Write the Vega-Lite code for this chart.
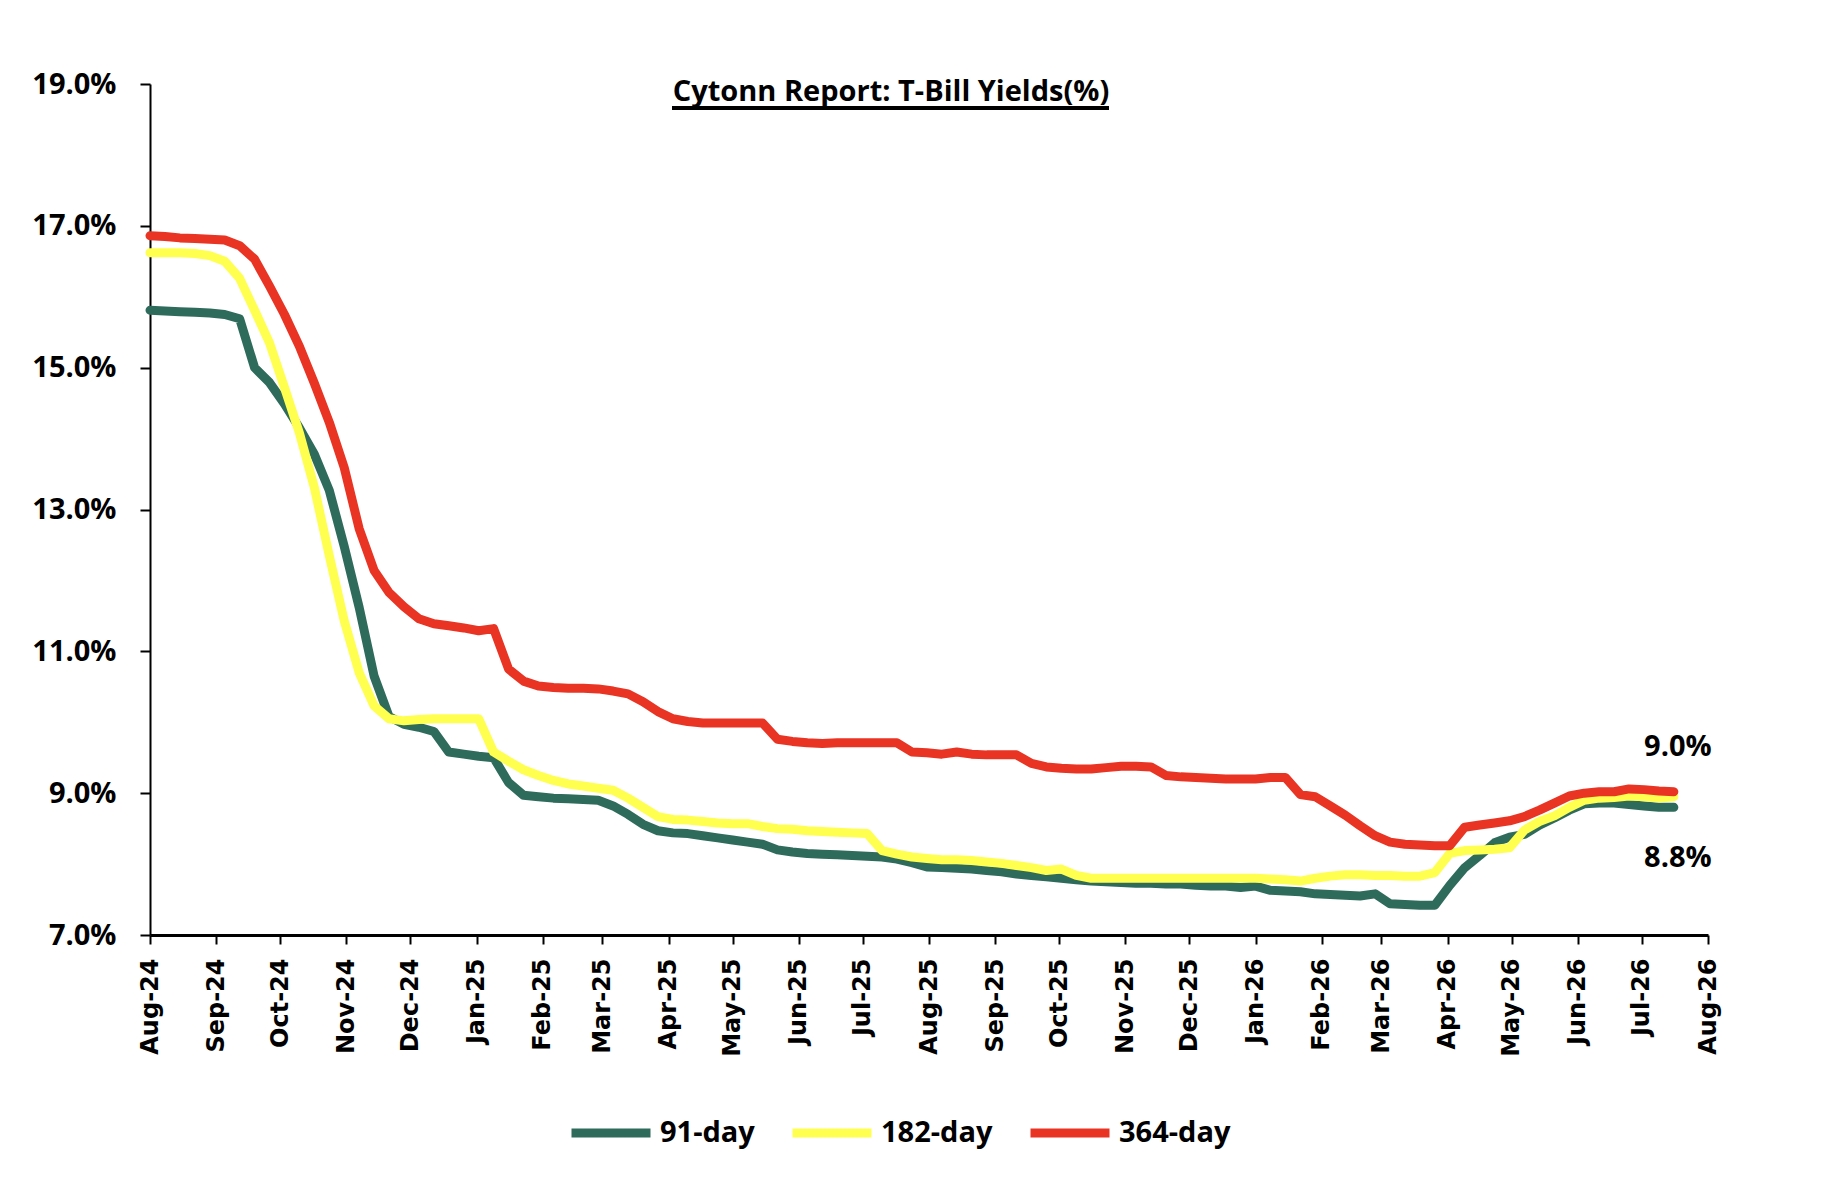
{
  "$schema": "https://vega.github.io/schema/vega-lite/v6.json",
  "width": 1558,
  "height": 851,
  "autosize": {"type": "none"},
  "padding": {"left": 150, "top": 84, "right": 118, "bottom": 251},
  "background": "white",
  "title": {
    "text": "Cytonn Report: T-Bill Yields(%)",
    "anchor": "middle",
    "frame": "group",
    "font": "Open Sans",
    "fontWeight": "bold",
    "fontSize": 29,
    "color": "black",
    "baseline": "alphabetic",
    "offset": -60,
    "dx": -38
  },
  "data": {
    "values": [
      {"date": "2024-08-01", "91-day": 15.81, "182-day": 16.62, "364-day": 16.86},
      {"date": "2024-08-08", "91-day": 15.80, "182-day": 16.62, "364-day": 16.85},
      {"date": "2024-08-15", "91-day": 15.79, "182-day": 16.62, "364-day": 16.83},
      {"date": "2024-08-22", "91-day": 15.78, "182-day": 16.61, "364-day": 16.82},
      {"date": "2024-08-29", "91-day": 15.77, "182-day": 16.58, "364-day": 16.81},
      {"date": "2024-09-05", "91-day": 15.75, "182-day": 16.50, "364-day": 16.80},
      {"date": "2024-09-12", "91-day": 15.69, "182-day": 16.26, "364-day": 16.72},
      {"date": "2024-09-19", "91-day": 15.00, "182-day": 15.81, "364-day": 16.53},
      {"date": "2024-09-26", "91-day": 14.79, "182-day": 15.35, "364-day": 16.15},
      {"date": "2024-10-03", "91-day": 14.49, "182-day": 14.72, "364-day": 15.75},
      {"date": "2024-10-10", "91-day": 14.15, "182-day": 14.08, "364-day": 15.30},
      {"date": "2024-10-17", "91-day": 13.78, "182-day": 13.31, "364-day": 14.78},
      {"date": "2024-10-24", "91-day": 13.27, "182-day": 12.35, "364-day": 14.23},
      {"date": "2024-10-31", "91-day": 12.48, "182-day": 11.43, "364-day": 13.59},
      {"date": "2024-11-07", "91-day": 11.62, "182-day": 10.70, "364-day": 12.73},
      {"date": "2024-11-14", "91-day": 10.65, "182-day": 10.23, "364-day": 12.14},
      {"date": "2024-11-21", "91-day": 10.08, "182-day": 10.05, "364-day": 11.83},
      {"date": "2024-11-28", "91-day": 9.97, "182-day": 10.02, "364-day": 11.63},
      {"date": "2024-12-05", "91-day": 9.93, "182-day": 10.04, "364-day": 11.46},
      {"date": "2024-12-12", "91-day": 9.87, "182-day": 10.05, "364-day": 11.39},
      {"date": "2024-12-19", "91-day": 9.58, "182-day": 10.05, "364-day": 11.36},
      {"date": "2024-12-26", "91-day": 9.55, "182-day": 10.05, "364-day": 11.33},
      {"date": "2025-01-02", "91-day": 9.52, "182-day": 10.05, "364-day": 11.29},
      {"date": "2025-01-09", "91-day": 9.50, "182-day": 9.58, "364-day": 11.32},
      {"date": "2025-01-16", "91-day": 9.15, "182-day": 9.45, "364-day": 10.75},
      {"date": "2025-01-23", "91-day": 8.97, "182-day": 9.33, "364-day": 10.58},
      {"date": "2025-01-30", "91-day": 8.95, "182-day": 9.25, "364-day": 10.51},
      {"date": "2025-02-06", "91-day": 8.93, "182-day": 9.18, "364-day": 10.49},
      {"date": "2025-02-13", "91-day": 8.92, "182-day": 9.13, "364-day": 10.48},
      {"date": "2025-02-20", "91-day": 8.91, "182-day": 9.10, "364-day": 10.48},
      {"date": "2025-02-27", "91-day": 8.90, "182-day": 9.07, "364-day": 10.47},
      {"date": "2025-03-06", "91-day": 8.82, "182-day": 9.04, "364-day": 10.44},
      {"date": "2025-03-13", "91-day": 8.70, "182-day": 8.93, "364-day": 10.40},
      {"date": "2025-03-20", "91-day": 8.56, "182-day": 8.80, "364-day": 10.29},
      {"date": "2025-03-27", "91-day": 8.47, "182-day": 8.67, "364-day": 10.15},
      {"date": "2025-04-03", "91-day": 8.44, "182-day": 8.63, "364-day": 10.05},
      {"date": "2025-04-10", "91-day": 8.43, "182-day": 8.62, "364-day": 10.01},
      {"date": "2025-04-17", "91-day": 8.40, "182-day": 8.60, "364-day": 9.99},
      {"date": "2025-04-24", "91-day": 8.37, "182-day": 8.58, "364-day": 9.99},
      {"date": "2025-05-01", "91-day": 8.34, "182-day": 8.57, "364-day": 9.99},
      {"date": "2025-05-08", "91-day": 8.31, "182-day": 8.57, "364-day": 9.99},
      {"date": "2025-05-15", "91-day": 8.28, "182-day": 8.53, "364-day": 9.99},
      {"date": "2025-05-22", "91-day": 8.20, "182-day": 8.50, "364-day": 9.76},
      {"date": "2025-05-29", "91-day": 8.17, "182-day": 8.49, "364-day": 9.73},
      {"date": "2025-06-05", "91-day": 8.15, "182-day": 8.47, "364-day": 9.71},
      {"date": "2025-06-12", "91-day": 8.14, "182-day": 8.46, "364-day": 9.70},
      {"date": "2025-06-19", "91-day": 8.13, "182-day": 8.45, "364-day": 9.71},
      {"date": "2025-06-26", "91-day": 8.12, "182-day": 8.44, "364-day": 9.71},
      {"date": "2025-07-03", "91-day": 8.11, "182-day": 8.43, "364-day": 9.71},
      {"date": "2025-07-10", "91-day": 8.10, "182-day": 8.19, "364-day": 9.71},
      {"date": "2025-07-17", "91-day": 8.07, "182-day": 8.14, "364-day": 9.71},
      {"date": "2025-07-24", "91-day": 8.02, "182-day": 8.10, "364-day": 9.58},
      {"date": "2025-07-31", "91-day": 7.96, "182-day": 8.08, "364-day": 9.57},
      {"date": "2025-08-07", "91-day": 7.95, "182-day": 8.06, "364-day": 9.55},
      {"date": "2025-08-14", "91-day": 7.94, "182-day": 8.06, "364-day": 9.58},
      {"date": "2025-08-21", "91-day": 7.93, "182-day": 8.05, "364-day": 9.55},
      {"date": "2025-08-28", "91-day": 7.91, "182-day": 8.03, "364-day": 9.54},
      {"date": "2025-09-04", "91-day": 7.89, "182-day": 8.01, "364-day": 9.54},
      {"date": "2025-09-11", "91-day": 7.86, "182-day": 7.98, "364-day": 9.54},
      {"date": "2025-09-18", "91-day": 7.84, "182-day": 7.95, "364-day": 9.42},
      {"date": "2025-09-25", "91-day": 7.82, "182-day": 7.91, "364-day": 9.37},
      {"date": "2025-10-02", "91-day": 7.80, "182-day": 7.93, "364-day": 9.35},
      {"date": "2025-10-09", "91-day": 7.78, "182-day": 7.84, "364-day": 9.34},
      {"date": "2025-10-16", "91-day": 7.76, "182-day": 7.80, "364-day": 9.34},
      {"date": "2025-10-23", "91-day": 7.75, "182-day": 7.80, "364-day": 9.36},
      {"date": "2025-10-30", "91-day": 7.74, "182-day": 7.80, "364-day": 9.38},
      {"date": "2025-11-06", "91-day": 7.73, "182-day": 7.80, "364-day": 9.38},
      {"date": "2025-11-13", "91-day": 7.73, "182-day": 7.80, "364-day": 9.37},
      {"date": "2025-11-20", "91-day": 7.72, "182-day": 7.80, "364-day": 9.25},
      {"date": "2025-11-27", "91-day": 7.72, "182-day": 7.80, "364-day": 9.23},
      {"date": "2025-12-04", "91-day": 7.70, "182-day": 7.80, "364-day": 9.22},
      {"date": "2025-12-11", "91-day": 7.69, "182-day": 7.80, "364-day": 9.21},
      {"date": "2025-12-18", "91-day": 7.69, "182-day": 7.80, "364-day": 9.20},
      {"date": "2025-12-25", "91-day": 7.67, "182-day": 7.80, "364-day": 9.20},
      {"date": "2026-01-01", "91-day": 7.69, "182-day": 7.80, "364-day": 9.20},
      {"date": "2026-01-08", "91-day": 7.63, "182-day": 7.79, "364-day": 9.22},
      {"date": "2026-01-15", "91-day": 7.62, "182-day": 7.78, "364-day": 9.22},
      {"date": "2026-01-22", "91-day": 7.61, "182-day": 7.76, "364-day": 8.98},
      {"date": "2026-01-29", "91-day": 7.58, "182-day": 7.80, "364-day": 8.95},
      {"date": "2026-02-05", "91-day": 7.57, "182-day": 7.83, "364-day": 8.82},
      {"date": "2026-02-12", "91-day": 7.56, "182-day": 7.85, "364-day": 8.69},
      {"date": "2026-02-19", "91-day": 7.55, "182-day": 7.85, "364-day": 8.54},
      {"date": "2026-02-26", "91-day": 7.58, "182-day": 7.84, "364-day": 8.40},
      {"date": "2026-03-05", "91-day": 7.44, "182-day": 7.84, "364-day": 8.31},
      {"date": "2026-03-12", "91-day": 7.43, "182-day": 7.83, "364-day": 8.28},
      {"date": "2026-03-19", "91-day": 7.42, "182-day": 7.83, "364-day": 8.27},
      {"date": "2026-03-26", "91-day": 7.42, "182-day": 7.88, "364-day": 8.26},
      {"date": "2026-04-02", "91-day": 7.70, "182-day": 8.15, "364-day": 8.26},
      {"date": "2026-04-09", "91-day": 7.95, "182-day": 8.19, "364-day": 8.52},
      {"date": "2026-04-16", "91-day": 8.12, "182-day": 8.20, "364-day": 8.55},
      {"date": "2026-04-23", "91-day": 8.30, "182-day": 8.21, "364-day": 8.58},
      {"date": "2026-04-30", "91-day": 8.38, "182-day": 8.23, "364-day": 8.61},
      {"date": "2026-05-07", "91-day": 8.42, "182-day": 8.48, "364-day": 8.67},
      {"date": "2026-05-14", "91-day": 8.55, "182-day": 8.60, "364-day": 8.76},
      {"date": "2026-05-21", "91-day": 8.65, "182-day": 8.68, "364-day": 8.86},
      {"date": "2026-05-28", "91-day": 8.76, "182-day": 8.80, "364-day": 8.96},
      {"date": "2026-06-04", "91-day": 8.85, "182-day": 8.90, "364-day": 9.00},
      {"date": "2026-06-11", "91-day": 8.86, "182-day": 8.93, "364-day": 9.02},
      {"date": "2026-06-18", "91-day": 8.86, "182-day": 8.94, "364-day": 9.02},
      {"date": "2026-06-25", "91-day": 8.84, "182-day": 8.96, "364-day": 9.06},
      {"date": "2026-07-02", "91-day": 8.82, "182-day": 8.95, "364-day": 9.05},
      {"date": "2026-07-09", "91-day": 8.80, "182-day": 8.93, "364-day": 9.03},
      {"date": "2026-07-16", "91-day": 8.80, "182-day": 8.95, "364-day": 9.02}
    ]
  },
  "layer": [
    {
      "transform": [{"fold": ["91-day", "182-day", "364-day"], "as": ["series", "yield"]}],
      "mark": {"type": "line", "strokeWidth": 9, "strokeJoin": "round", "strokeCap": "round"},
      "encoding": {
        "x": {
          "field": "date",
          "type": "temporal",
          "scale": {"type": "utc", "domain": [{"year": 2024, "month": 8, "date": 1, "utc": true}, {"year": 2026, "month": 8, "date": 1, "utc": true}]},
          "axis": {
            "title": null,
            "tickCount": {"interval": "month", "step": 1},
            "labelExpr": "utcFormat(datum.value, '%b-%y')",
            "labelAngle": -90,
            "labelFont": "DejaVu Sans",
            "labelFontWeight": "bold",
            "labelFontSize": 24,
            "labelColor": "black",
            "labelPadding": 14,
            "labelOverlap": false,
            "labelFlush": false,
            "tickSize": 9,
            "tickWidth": 2,
            "tickColor": "black",
            "domainColor": "black",
            "domainWidth": 3,
            "grid": false
          }
        },
        "y": {
          "field": "yield",
          "type": "quantitative",
          "scale": {"domain": [7, 19], "nice": false, "zero": false},
          "axis": {
            "title": null,
            "values": [7, 9, 11, 13, 15, 17, 19],
            "labelExpr": "format(datum.value, '.1f') + '%'",
            "labelFont": "Open Sans",
            "labelFontWeight": "bold",
            "labelFontSize": 29,
            "labelColor": "black",
            "labelPadding": 24,
            "labelFlush": false,
            "tickSize": 10,
            "tickWidth": 2,
            "tickColor": "black",
            "domainColor": "black",
            "domainWidth": 2,
            "grid": false
          }
        },
        "color": {
          "field": "series",
          "type": "nominal",
          "scale": {"domain": ["91-day", "182-day", "364-day"], "range": ["#2E6B5B", "#FFFF4F", "#E93424"]},
          "legend": {
            "title": null,
            "orient": "none",
            "direction": "horizontal",
            "legendX": 417,
            "legendY": 1005,
            "padding": 0,
            "symbolType": "stroke",
            "symbolSize": 6241,
            "symbolStrokeWidth": 9,
            "labelFont": "Open Sans",
            "labelFontWeight": "bold",
            "labelFontSize": 29,
            "labelColor": "black",
            "labelOffset": 5,
            "columnPadding": 19
          }
        }
      }
    },
    {
      "transform": [
        {"filter": {"field": "date", "equal": {"year": 2026, "month": 7, "date": 16, "utc": true}}},
        {"calculate": "format(datum['364-day'], '.1f') + '%'", "as": "lbl"}
      ],
      "mark": {"type": "text", "font": "Open Sans", "fontWeight": "bold", "fontSize": 29, "color": "black", "baseline": "middle", "align": "center", "dx": 4, "dy": -45},
      "encoding": {
        "x": {"field": "date", "type": "temporal", "scale": {"type": "utc", "domain": [{"year": 2024, "month": 8, "date": 1, "utc": true}, {"year": 2026, "month": 8, "date": 1, "utc": true}]}},
        "y": {"field": "364-day", "type": "quantitative", "scale": {"domain": [7, 19], "nice": false, "zero": false}},
        "text": {"field": "lbl"}
      }
    },
    {
      "transform": [
        {"filter": {"field": "date", "equal": {"year": 2026, "month": 7, "date": 16, "utc": true}}},
        {"calculate": "format(datum['91-day'], '.1f') + '%'", "as": "lbl"}
      ],
      "mark": {"type": "text", "font": "Open Sans", "fontWeight": "bold", "fontSize": 29, "color": "black", "baseline": "middle", "align": "center", "dx": 4, "dy": 51},
      "encoding": {
        "x": {"field": "date", "type": "temporal", "scale": {"type": "utc", "domain": [{"year": 2024, "month": 8, "date": 1, "utc": true}, {"year": 2026, "month": 8, "date": 1, "utc": true}]}},
        "y": {"field": "91-day", "type": "quantitative", "scale": {"domain": [7, 19], "nice": false, "zero": false}},
        "text": {"field": "lbl"}
      }
    },
    {
      "mark": {"type": "rule", "color": "black", "strokeWidth": 3},
      "encoding": {
        "x": {"datum": {"year": 2025, "month": 4, "date": 3, "utc": true}, "type": "temporal"},
        "x2": {"datum": {"year": 2025, "month": 10, "date": 24, "utc": true}},
        "y": {"datum": 18.66, "type": "quantitative"}
      }
    }
  ],
  "config": {
    "view": {"stroke": null},
    "axis": {"grid": false}
  }
}
